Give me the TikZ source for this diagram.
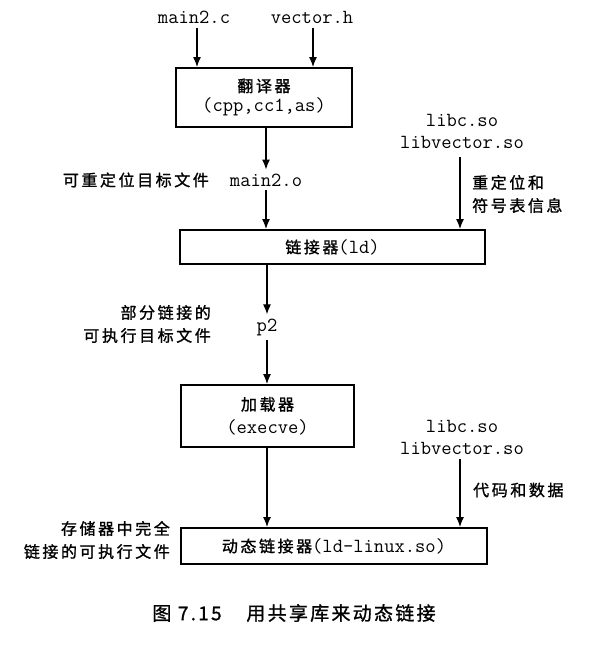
\documentclass[tikz,border=0pt]{standalone}
\usepackage{fontspec}
\newfontfamily\cjk{Noto Sans CJK SC}[LetterSpace=16, FakeBold=1.2]
\newfontfamily\cjkcap{Noto Sans CJK SC}[LetterSpace=12, FakeBold=1]
\newcommand\code{\ttfamily}
\usetikzlibrary{arrows.meta}
\newcommand\zh[1]{{\cjk\fontsize{16}{22}\selectfont #1}}
\newcommand\cd[1]{{\code\fontsize{20}{22}\selectfont #1}}
\tikzset{
  txt/.style={inner sep=1pt, align=center, font=\fontsize{17.5}{22}\selectfont},
  lbl/.style={inner sep=0pt, font=\cjk\fontsize{16}{23}\selectfont},
  box/.style={draw, line width=2pt, inner sep=0pt, align=center, font=\fontsize{17.5}{21}\selectfont},
  arr/.style={-{Latex[length=10pt,width=8pt]}, line width=1.2pt},
}
\begin{document}
\begin{tikzpicture}[x=1pt,y=-1pt]
\useasboundingbox (0,0) rectangle (608,645);
% top inputs
\node[txt] (mainc) at (194,17) {\cd{main2.c}};
\node[txt] (vech) at (312,17) {\cd{vector.h}};
% translator
\node[box, minimum width=176pt, minimum height=59pt] (trans) at (264,97.5)
  {\zh{翻译器}\\[-1pt]\cd{(cpp,cc1,as)}};
\draw[arr] ([xshift=3pt,yshift=-4pt]mainc.south) -- ([xshift=3pt]mainc.south |- trans.north);
\draw[arr] ([xshift=1pt,yshift=-4pt]vech.south) -- ([xshift=1pt]vech.south |- trans.north);
% main2.o
\node[txt] (main2o) at (266,180) {\cd{main2.o}};
\node[lbl, anchor=east] (relocl) at (209,180) {可重定位目标文件};
\draw[arr] (trans.south -| main2o) -- ([yshift=3pt]main2o.north);
% libs top
\node[txt] (libs1) at (462,131) {\cd{libc.so}\\\cd{libvector.so}};
\node[lbl, anchor=west, align=left] (syml) at (472,194) {重定位和\\符号表信息};
% linker
\node[box, minimum width=305pt, minimum height=34pt] (linker) at (332.5,247)
  {\zh{链接器}\cd{(ld)}};
\draw[arr] ([yshift=-3pt]main2o.south) -- (main2o.south |- linker.north);
\draw[arr] ([xshift=-2pt,yshift=-8pt]libs1.south) -- ([xshift=-2pt]libs1.south |- linker.north);
% p2
\node[txt] (p2) at (267,327) {\cd{p2}};
\node[lbl, anchor=east, align=right] (partl) at (211,324) {部分链接的\\可执行目标文件};
\draw[arr] (linker.south -| p2) -- ([yshift=3pt]p2.north);
% loader
\node[box, minimum width=173pt, minimum height=62pt] (loader) at (267.5,416)
  {\zh{加载器}\\[2pt]\cd{(execve)}};
\draw[arr] ([yshift=-3pt]p2.south) -- (p2.south |- loader.north);
% libs bottom
\node[txt] (libs2) at (462,437) {\cd{libc.so}\\\cd{libvector.so}};
\node[lbl, anchor=west] (codel) at (473,490) {代码和数据};
% dynamic linker
\node[box, minimum width=306pt, minimum height=36pt] (dyn) at (334,546)
  {\zh{动态链接器}\cd{(ld-linux.so)}};
\node[lbl, anchor=east, align=right] (meml) at (170,540) {存储器中完全\\链接的可执行文件};
\draw[arr] (loader.south -| p2) -- (dyn.north -| p2);
\draw[arr] ([xshift=-2pt,yshift=-4pt]libs2.south) -- ([xshift=-2pt]libs2.south |- dyn.north);
% caption
\node[inner sep=0pt, font=\cjkcap\fontsize{19}{22}\selectfont] (cap) at (294,613) {图 7.15\hspace{1.3em}用共享库来动态链接};
\end{tikzpicture}
\end{document}
